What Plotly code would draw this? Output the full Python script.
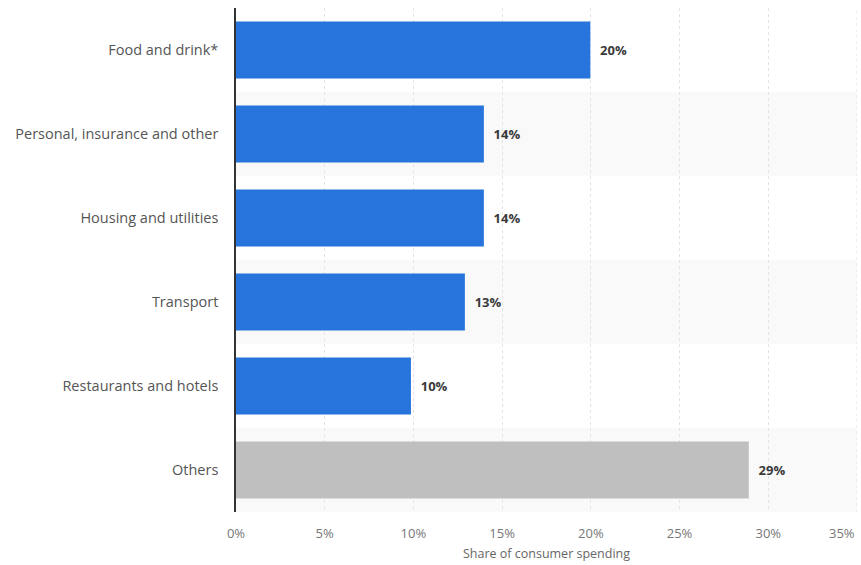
import plotly.graph_objects as go

categories = ["Food and drink*", "Personal, insurance and other", "Housing and utilities",
              "Transport", "Restaurants and hotels", "Others"]
values = [19.97, 13.97, 13.97, 12.9, 9.86, 28.9]
labels = ["20%", "14%", "14%", "13%", "10%", "29%"]
colors = ["#2775dc", "#2775dc", "#2775dc", "#2775dc", "#2775dc", "#bfbfbf"]
x_ticks = [0, 5, 10, 15, 20, 25, 30]
x_tick_labels = ["0%", "5%", "10%", "15%", "20%", "25%", "30%"]
x_max = 35
x_max_label = "35%"

fig = go.Figure()
fig.add_trace(go.Bar(
    x=values, y=categories, orientation="h",
    marker=dict(color=colors, line=dict(width=0)),
    width=0.68,
    text=labels, textposition="outside",
    texttemplate="  %{text}",
    textfont=dict(family="Open Sans", size=13, color="#3a3a3a", weight="bold"),
    cliponaxis=False,
    hoverinfo="skip",
))

shapes = []
for i in range(len(categories)):
    if i % 2 == 1:
        shapes.append(dict(type="rect", xref="paper", yref="y", x0=0, x1=1,
                           y0=i - 0.5, y1=i + 0.5, fillcolor="#f9f9f9",
                           line=dict(width=0), layer="below"))

fig.add_annotation(x=x_max, y=0, xref="x", yref="paper", text=x_max_label,
                   xanchor="right", yanchor="top", yshift=-10, showarrow=False,
                   font=dict(family="Open Sans", size=13, color="#777777"))
shapes.append(dict(type="line", xref="x", yref="paper", x0=x_max, x1=x_max, y0=0, y1=1,
                   line=dict(color="#e3e3e3", width=1, dash="dot"), layer="below"))

fig.update_layout(
    width=861, height=565,
    margin=dict(l=236, r=4, t=8, b=53),
    plot_bgcolor="white", paper_bgcolor="white",
    shapes=shapes,
    showlegend=False,
    xaxis=dict(range=[0, x_max], tickvals=x_ticks, ticktext=x_tick_labels,
               showgrid=True, gridcolor="#e3e3e3", griddash="dot", gridwidth=1,
               zeroline=False, showline=False, ticklabelstandoff=12,
               tickfont=dict(family="Open Sans", size=13, color="#777777"),
               title=dict(text="Share of consumer spending",
                          font=dict(family="Open Sans", size=12.5, color="#666666"),
                          standoff=8)),
    yaxis=dict(autorange="reversed", showgrid=False, zeroline=False,
               showline=True, linecolor="#333333", linewidth=1.5,
               ticks="", ticklabelstandoff=13,
               tickfont=dict(family="Open Sans", size=14.5, color="#555555")),
)

fig.write_html("out.html")
